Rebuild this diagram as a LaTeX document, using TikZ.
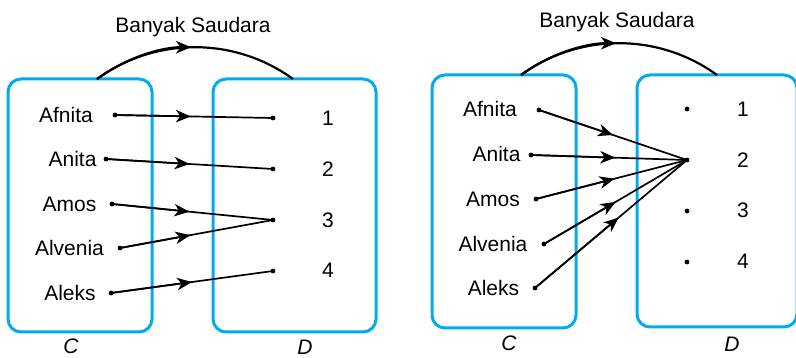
\documentclass[tikz,border=0pt]{standalone}
\usepackage{fontspec}
\setmainfont{Liberation Sans}
\usetikzlibrary{arrows.meta,calc}
\definecolor{setblue}{RGB}{0,172,236}
\begin{document}
\begin{tikzpicture}[x=1pt,y=-1pt,
  setbox/.style={draw=setblue,line width=3pt,rounded corners=13pt,inner sep=0pt,outer sep=0pt},
  lbl/.style={anchor=base,inner sep=0pt,font=\fontsize{21}{25}\selectfont},
  setname/.style={anchor=base,inner sep=0pt,font=\fontsize{21}{25}\selectfont\itshape},
  pt/.style={circle,fill=black,inner sep=0pt,minimum size=4.8pt},
  mapline/.style={line width=1.7pt},
  headtip/.style={line width=1.7pt,-{Stealth[length=15pt,width=12.5pt,inset=4.5pt]}},
  relarc/.style={line width=2.2pt},
  archead/.style={line width=2.2pt,-{Stealth[length=15pt,width=12.5pt,inset=4.5pt]}},
]
\useasboundingbox (0,0) rectangle (796,358);

% ===== Left panel =====
\node[setbox,minimum width=144pt,minimum height=253pt] (LC) at (80,205.5) {};
\node[setbox,minimum width=163pt,minimum height=253pt] (LD) at (294.5,205.5) {};
\coordinate (LarcS) at (97,79);
\coordinate (LarcM) at (195,47.2);
\coordinate (LarcE) at (293,79);
\draw[relarc] (LarcS) .. controls (155.4,36.6) and (234.6,36.6) .. (LarcE);
\draw[archead,shorten >=4pt] (LarcS) .. controls (126.2,57.8) and (160.6,47.2) .. (LarcM);
\node[lbl] (Ltitle) at (193,33) {Banyak Saudara};
\node[setname] (LClbl) at (71,354) {C};
\node[setname] (LDlbl) at (305,355) {D};

\node[lbl] (Lafn) at (66,123) {Afnita};
\node[lbl] (Lani) at (72.5,167) {Anita};
\node[lbl] (Lamo) at (69.5,212) {Amos};
\node[lbl] (Lalv) at (69.5,256) {Alvenia};
\node[lbl] (Lale) at (70,301) {Aleks};

\node[pt] (Lp1) at (115,115) {};
\node[pt] (Lp2) at (106,159) {};
\node[pt] (Lp3) at (112,204) {};
\node[pt] (Lp4) at (120,248) {};
\node[pt] (Lp5) at (111,293) {};

\node[pt] (Lq1) at (273,118) {};
\node[pt] (Lq2) at (273,169) {};
\node[pt] (Lq3) at (273,220) {};
\node[pt] (Lq4) at (273,271) {};

\node[lbl] (Ln1) at (328,126) {1};
\node[lbl] (Ln2) at (328,177) {2};
\node[lbl] (Ln3) at (328,228) {3};
\node[lbl] (Ln4) at (328,278) {4};

\draw[mapline] (Lp1.center) -- (Lq1.center);
\draw[headtip] (Lp1.center) -- ($(Lp1.center)!0.48!(Lq1.center)$);
\draw[mapline] (Lp2.center) -- (Lq2.center);
\draw[headtip] (Lp2.center) -- ($(Lp2.center)!0.5!(Lq2.center)$);
\draw[mapline] (Lp3.center) -- (Lq3.center);
\draw[headtip] (Lp3.center) -- ($(Lp3.center)!0.48!(Lq3.center)$);
\draw[mapline] (Lp4.center) -- (Lq3.center);
\draw[headtip] (Lp4.center) -- ($(Lp4.center)!0.46!(Lq3.center)$);
\draw[mapline] (Lp5.center) -- (Lq4.center);
\draw[headtip] (Lp5.center) -- ($(Lp5.center)!0.5!(Lq4.center)$);

% ===== Right panel =====
\node[setbox,minimum width=144pt,minimum height=253pt] (RC) at (504,201.5) {};
\node[setbox,minimum width=160pt,minimum height=252pt] (RD) at (717,201) {};
\coordinate (RarcS) at (521,75);
\coordinate (RarcM) at (619,43.2);
\coordinate (RarcE) at (717,75);
\draw[relarc] (RarcS) .. controls (579.4,32.6) and (658.6,32.6) .. (RarcE);
\draw[archead,shorten >=3pt] (RarcS) .. controls (550.2,53.8) and (584.6,43.2) .. (RarcM);
\node[lbl] (Rtitle) at (617,28) {Banyak Saudara};
\node[setname] (RClbl) at (509,351) {C};
\node[setname] (RDlbl) at (732,352) {D};

\node[lbl] (Rafn) at (490,117) {Afnita};
\node[lbl] (Rani) at (496.5,162) {Anita};
\node[lbl] (Ramo) at (493,207) {Amos};
\node[lbl] (Ralv) at (493,252) {Alvenia};
\node[lbl] (Rale) at (493.5,296) {Aleks};

\node[pt] (Rp1) at (539,110) {};
\node[pt] (Rp2) at (531,155) {};
\node[pt] (Rp3) at (536,199) {};
\node[pt] (Rp4) at (544,244) {};
\node[pt] (Rp5) at (535,288) {};

\node[pt] (Rq1) at (687,109) {};
\node[pt] (Rq2) at (687,160) {};
\node[pt] (Rq3) at (687,211) {};
\node[pt] (Rq4) at (687,262) {};

\node[lbl] (Rn1) at (743,117) {1};
\node[lbl] (Rn2) at (743,168) {2};
\node[lbl] (Rn3) at (743,218) {3};
\node[lbl] (Rn4) at (743,269) {4};

\draw[mapline] (Rp1.center) -- (Rq2.center);
\draw[headtip] (Rp1.center) -- ($(Rp1.center)!0.5!(Rq2.center)$);
\draw[mapline] (Rp2.center) -- (Rq2.center);
\draw[headtip] (Rp2.center) -- ($(Rp2.center)!0.54!(Rq2.center)$);
\draw[mapline] (Rp3.center) -- (Rq2.center);
\draw[headtip] (Rp3.center) -- ($(Rp3.center)!0.52!(Rq2.center)$);
\draw[mapline] (Rp4.center) -- (Rq2.center);
\draw[headtip] (Rp4.center) -- ($(Rp4.center)!0.5!(Rq2.center)$);
\draw[mapline] (Rp5.center) -- (Rq2.center);
\draw[headtip] (Rp5.center) -- ($(Rp5.center)!0.55!(Rq2.center)$);
\end{tikzpicture}
\end{document}
